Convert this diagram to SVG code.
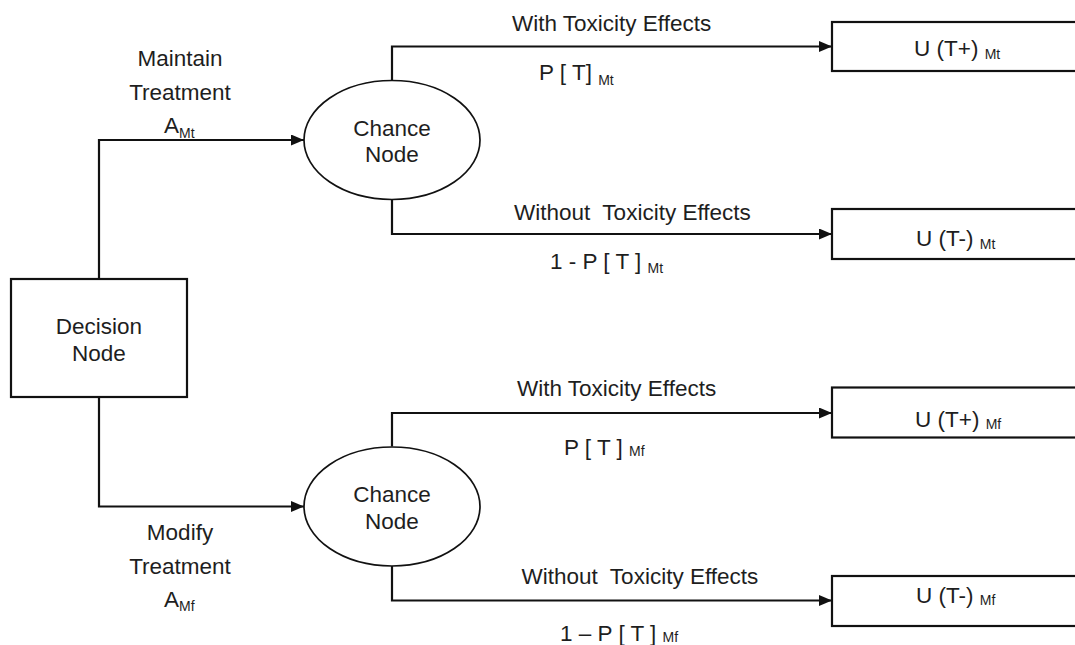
<svg xmlns="http://www.w3.org/2000/svg" width="1075" height="645" viewBox="0 0 1075 645">
  <style>
    text { font-family: "Liberation Sans", Arial, sans-serif; font-size: 22.5px; fill: #1e1e1e; }
    .sub { font-size: 14px; }
    .box { fill: #fff; stroke: #111; stroke-width: 2.2; }
    .chance { fill: #fff; stroke: #111; stroke-width: 1.7; }
    .conn { fill: none; stroke: #111; stroke-width: 2.2; marker-end: url(#arrow); }
    .mid { text-anchor: middle; }
  </style>
  <defs>
    <marker id="arrow" markerUnits="userSpaceOnUse" markerWidth="13" markerHeight="11" refX="13" refY="5.5" orient="auto">
      <path d="M0,0 L13,5.5 L0,11 Z" fill="#111"/>
    </marker>
  </defs>
  <rect width="1075" height="645" fill="#fff"/>

  <!-- connectors -->
  <g id="connectors">
    <path class="conn" d="M99,279 V140 H304"/>
    <path class="conn" d="M99,397 V506.5 H304"/>
    <path class="conn" d="M392,80.5 V46.5 H832"/>
    <path class="conn" d="M392,199.5 V234 H832"/>
    <path class="conn" d="M392,446.5 V413 H832"/>
    <path class="conn" d="M392,566 V600.5 H832"/>
  </g>

  <!-- connector labels -->
  <g id="labels">
    <text class="mid" x="180" y="65.5">Maintain</text>
    <text class="mid" x="180" y="99.5">Treatment</text>
    <text x="164" y="133">A<tspan class="sub" dy="4.5">Mt</tspan></text>

    <text class="mid" x="180" y="540">Modify</text>
    <text class="mid" x="180" y="574">Treatment</text>
    <text x="164" y="606.5">A<tspan class="sub" dy="4.5">Mf</tspan></text>

    <text x="512" y="30.5">With Toxicity Effects</text>
    <text x="539" y="80">P [ T] <tspan class="sub" dy="5">Mt</tspan></text>
    <text x="514" y="219.5" xml:space="preserve">Without  Toxicity Effects</text>
    <text x="550" y="268.5">1 - P [ T ] <tspan class="sub" dy="4">Mt</tspan></text>

    <text x="517" y="396">With Toxicity Effects</text>
    <text x="564" y="455">P [ T ] <tspan class="sub" dy="1">Mf</tspan></text>
    <text x="521.5" y="584" xml:space="preserve">Without  Toxicity Effects</text>
    <text x="560" y="641">1 – P [ T ] <tspan class="sub" dy="1">Mf</tspan></text>
  </g>

  <!-- decision node -->
  <g id="decision">
    <rect class="box" x="11" y="279" width="176" height="118"/>
    <text class="mid" x="99" y="333.5">Decision</text>
    <text class="mid" x="99" y="360.5">Node</text>
  </g>

  <!-- chance nodes -->
  <g id="chance-maintain">
    <ellipse class="chance" cx="392" cy="140" rx="88" ry="59.5"/>
    <text class="mid" x="392" y="135.5">Chance</text>
    <text class="mid" x="392" y="162">Node</text>
  </g>
  <g id="chance-modify">
    <ellipse class="chance" cx="392" cy="506.5" rx="88" ry="59.5"/>
    <text class="mid" x="392" y="502">Chance</text>
    <text class="mid" x="392" y="528.5">Node</text>
  </g>

  <!-- utility outcomes -->
  <g id="utility-tplus-mt">
    <rect class="box" x="832" y="22" width="250" height="49"/>
    <text x="914" y="56">U (T+) <tspan class="sub" dy="3">Mt</tspan></text>
  </g>
  <g id="utility-tminus-mt">
    <rect class="box" x="832" y="209" width="250" height="50"/>
    <text x="916" y="246">U (T-) <tspan class="sub" dy="3">Mt</tspan></text>
  </g>
  <g id="utility-tplus-mf">
    <rect class="box" x="832" y="387.5" width="250" height="50"/>
    <text x="915" y="427">U (T+) <tspan class="sub" dy="1.5">Mf</tspan></text>
  </g>
  <g id="utility-tminus-mf">
    <rect class="box" x="832" y="576" width="250" height="50"/>
    <text x="916" y="603">U (T-) <tspan class="sub" dy="1.5">Mf</tspan></text>
  </g>
</svg>
